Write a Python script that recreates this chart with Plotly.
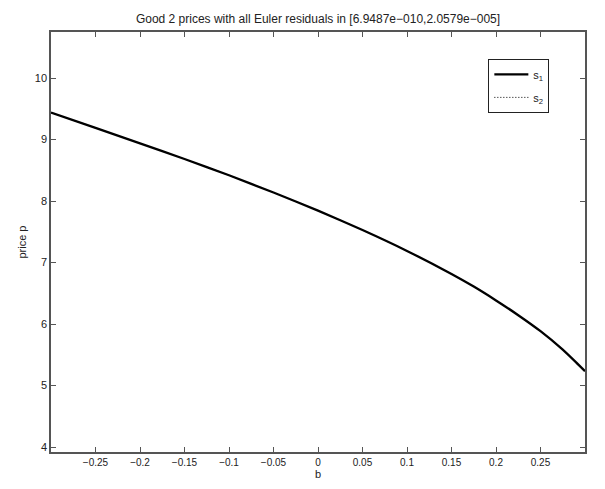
import plotly.graph_objects as go

# Data
b_vals = [-0.3, -0.25, -0.2, -0.15, -0.1, -0.05, 0.0, 0.05, 0.1, 0.15, 0.175, 0.2, 0.225, 0.25, 0.275, 0.29, 0.3]
price_s1 = [9.44, 9.19, 8.94, 8.685, 8.42, 8.14, 7.845, 7.53, 7.19, 6.815, 6.61, 6.385, 6.145, 5.885, 5.585, 5.378, 5.235]
price_s2 = [9.44, 9.19, 8.94, 8.685, 8.42, 8.14, 7.845, 7.53, 7.19, 6.815, 6.61, 6.385, 6.145, 5.885, 5.585, 5.378, 5.235]
x_tick_vals = [-0.25, -0.2, -0.15, -0.1, -0.05, 0, 0.05, 0.1, 0.15, 0.2, 0.25]
x_tick_text = ["\u22120.25", "\u22120.2", "\u22120.15", "\u22120.1", "\u22120.05", "0", "0.05", "0.1", "0.15", "0.2", "0.25"]
y_tick_vals = [4, 5, 6, 7, 8, 9, 10]
title_text = "Good 2 prices with all Euler residuals in [6.9487e\u2212010,2.0579e\u2212005]"

FONT = "Liberation Sans, Arial, Helvetica, sans-serif"
AX = "#555555"

fig = go.Figure()
fig.add_trace(go.Scatter(
    x=b_vals, y=price_s1, mode="lines", name="s<sub>1</sub>",
    line=dict(color="black", width=2.3, shape="spline", smoothing=0.5),
    legendgroup="g1",
))
fig.add_trace(go.Scatter(
    x=b_vals, y=price_s2, mode="lines", name="s<sub>2</sub>",
    line=dict(color="black", width=1, dash="1px,2px", shape="spline", smoothing=0.5),
    legendgroup="g2",
))

fig.update_layout(
    width=605, height=489,
    paper_bgcolor="white", plot_bgcolor="white",
    margin=dict(l=51, r=20, t=32, b=35),
    font=dict(family=FONT, size=10, color="#222222"),
    title=dict(text=title_text, x=0.5, xref="paper", xanchor="center",
               y=1 - 19 / 489, yref="container", yanchor="middle",
               font=dict(family=FONT, size=12, color="#222222")),
    showlegend=True,
    legend=dict(
        x=0.819, y=0.936, xanchor="left", yanchor="top",
        bgcolor="white", bordercolor="#222222", borderwidth=1,
        font=dict(family=FONT, size=11, color="#222222"),
        itemwidth=34, tracegroupgap=4,
        traceorder="grouped",
    ),
)

fig.update_xaxes(
    range=[-0.3, 0.3], tickmode="array", tickvals=x_tick_vals, ticktext=x_tick_text,
    ticks="inside", ticklen=5, tickcolor=AX, tickwidth=1,
    showline=True, linecolor=AX, linewidth=1.5, mirror="ticks",
    showgrid=False, zeroline=False,
    title=dict(text="b", standoff=2, font=dict(family=FONT, size=11, color="#222222")),
)
fig.update_yaxes(
    range=[3.92, 10.75], tickmode="array", tickvals=y_tick_vals,
    ticks="inside", ticklen=5, tickcolor=AX, tickwidth=1,
    showline=True, linecolor=AX, linewidth=1.5, mirror="ticks",
    showgrid=False, zeroline=False,
    title=dict(text="price p", standoff=6, font=dict(family=FONT, size=11, color="#222222")),
    tickfont=dict(size=11),
)

fig.write_html("out.html")
